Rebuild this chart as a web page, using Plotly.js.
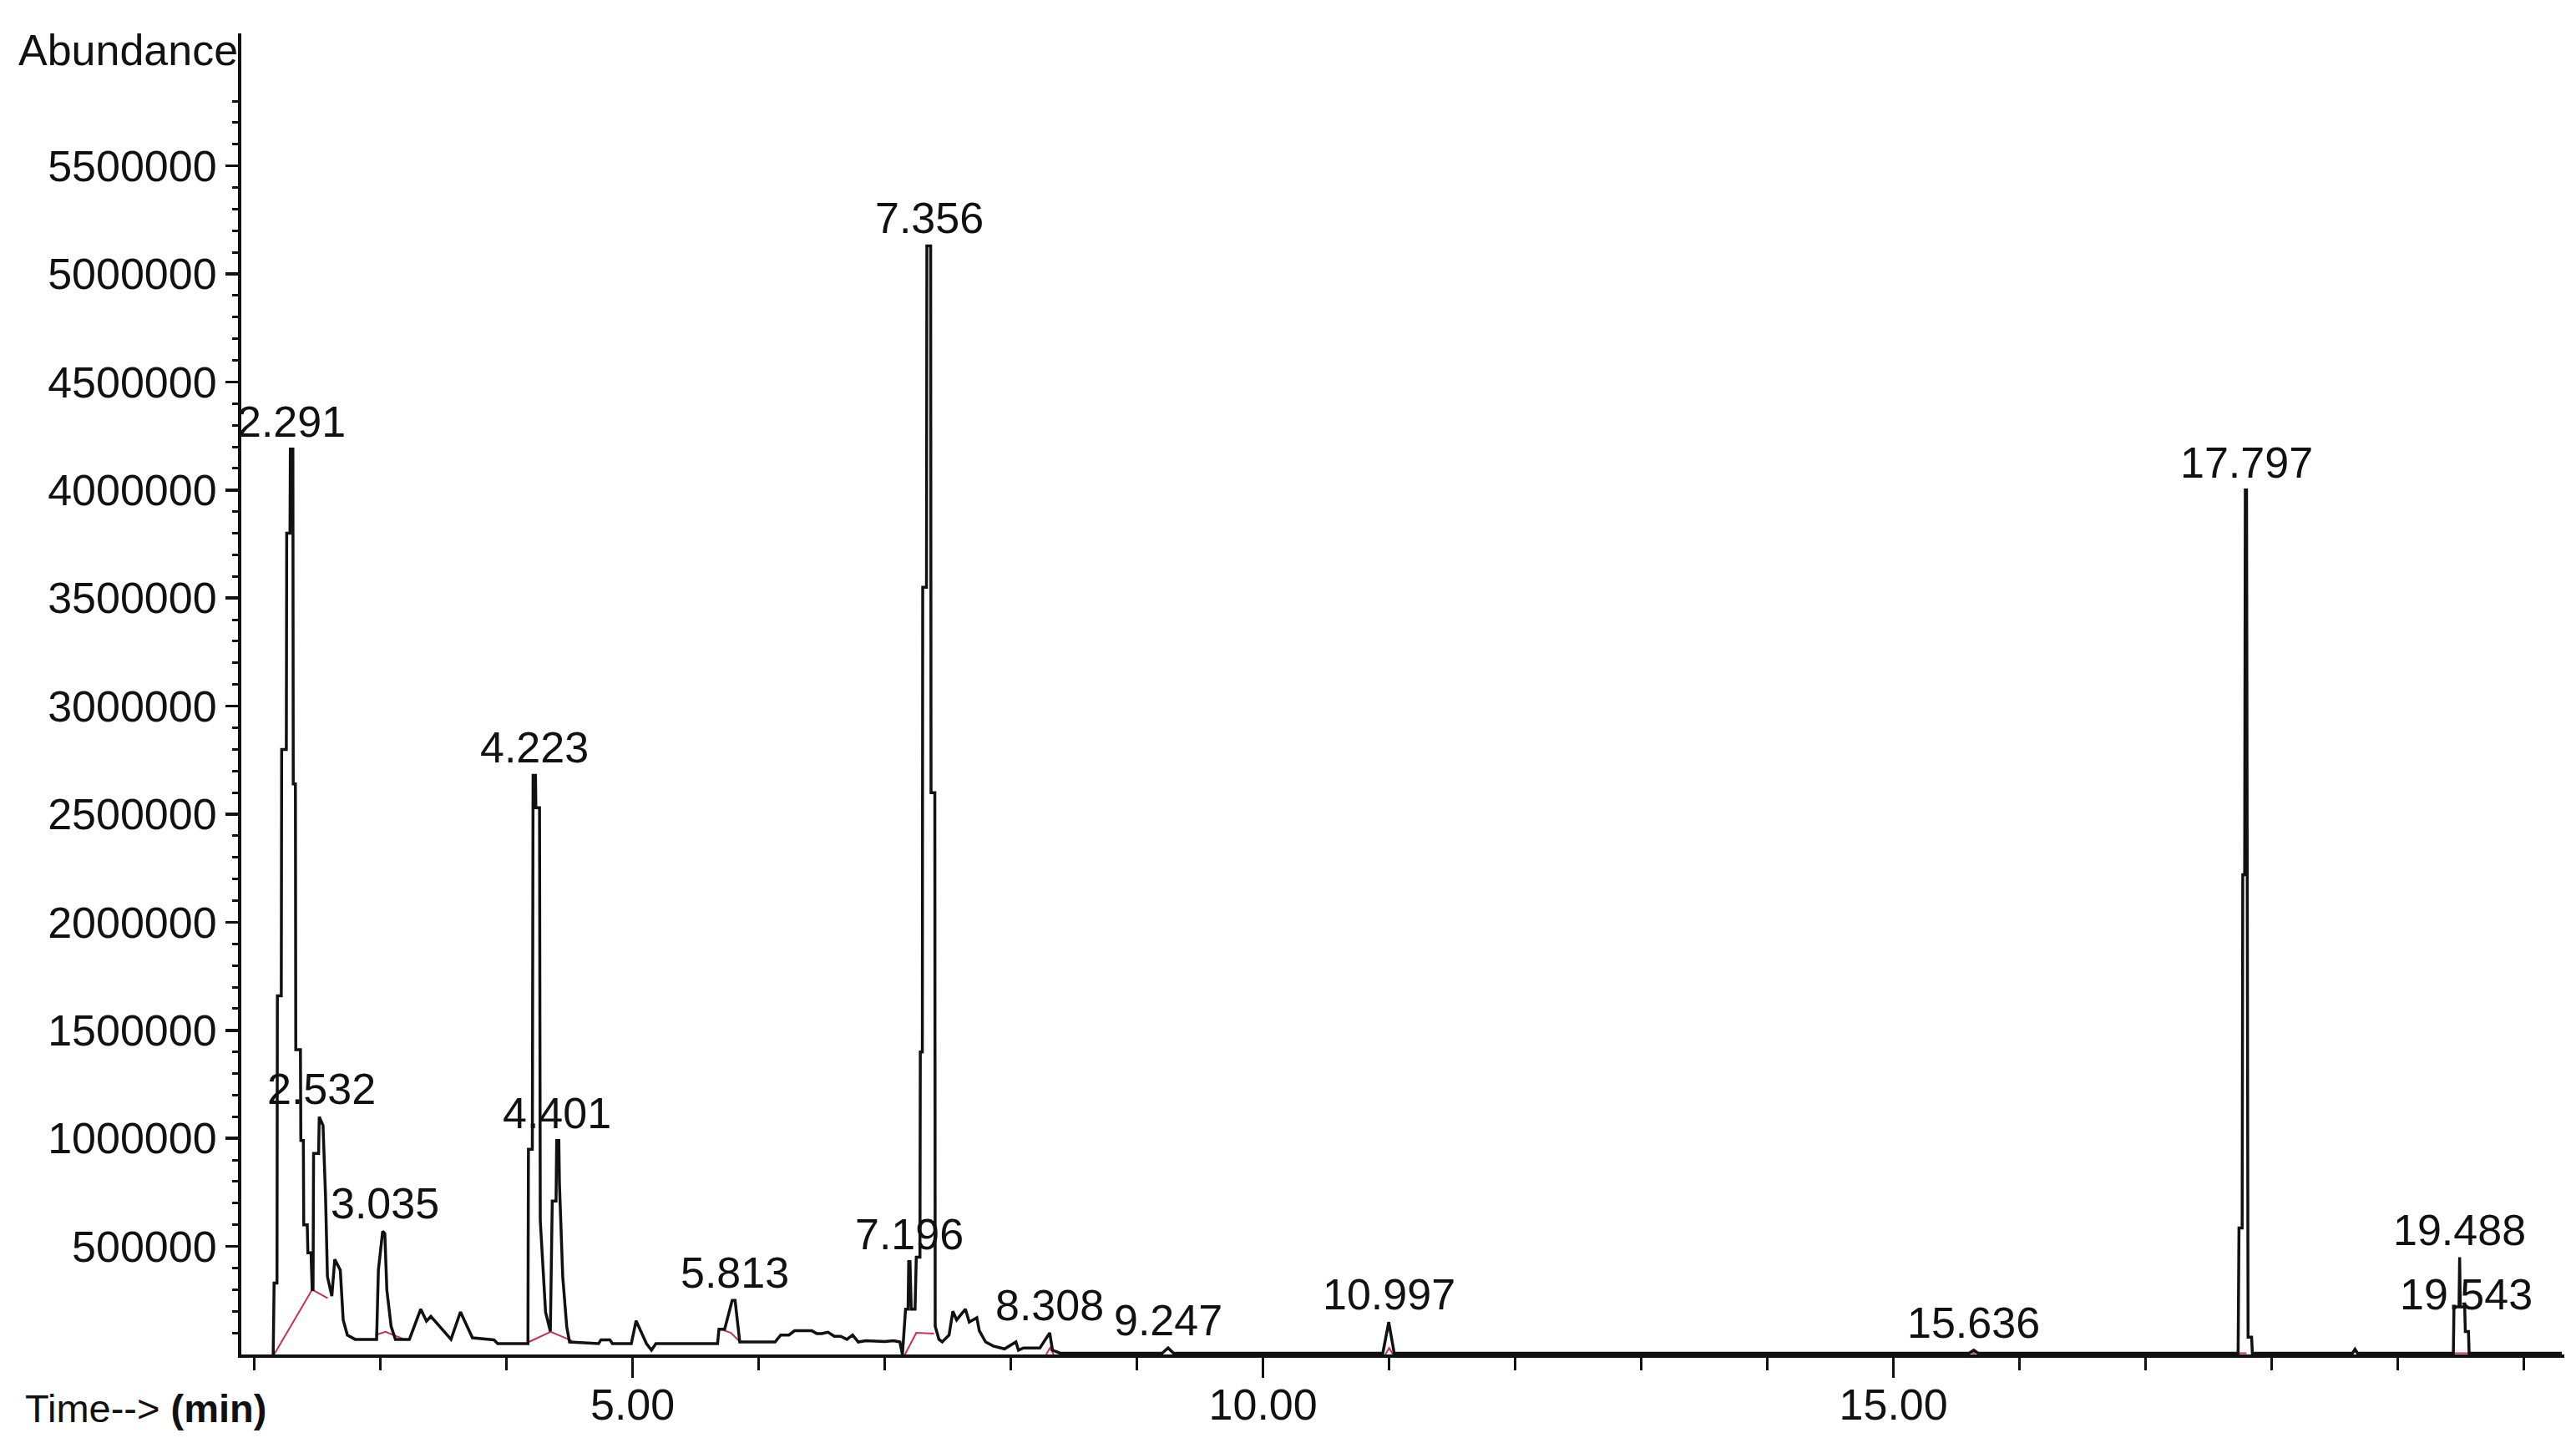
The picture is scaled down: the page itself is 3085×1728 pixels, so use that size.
<!DOCTYPE html>
<html>
<head>
<meta charset="utf-8">
<script src="https://cdn.plot.ly/plotly-3.0.1.min.js"></script>
<style>
  html, body { margin: 0; padding: 0; background: #ffffff; }
  #chart { width: 3085px; height: 1728px; }
</style>
</head>
<body>
<div id="chart"></div>
<script>
// Retention time (min) of the total ion chromatogram trace
const rtMin = [
  2.150, 2.157, 2.180, 2.183, 2.214, 2.217, 2.254, 2.257, 2.283, 2.286,
  2.306, 2.309, 2.326, 2.329, 2.366, 2.369, 2.389, 2.392, 2.420, 2.425,
  2.450, 2.459, 2.466, 2.470, 2.510, 2.515, 2.545, 2.565, 2.580, 2.615,
  2.638, 2.682, 2.705, 2.738, 2.800, 2.970, 2.984, 3.018, 3.035, 3.051,
  3.085, 3.119, 3.230, 3.320, 3.365, 3.400, 3.560, 3.635, 3.730, 3.900,
  3.930, 4.170, 4.174, 4.205, 4.211, 4.230, 4.233, 4.262, 4.268, 4.310,
  4.348, 4.363, 4.393, 4.398, 4.415, 4.420, 4.446, 4.478, 4.500, 4.730,
  4.750, 4.820, 4.840, 4.990, 5.028, 5.110, 5.150, 5.185, 5.674, 5.685,
  5.730, 5.790, 5.813, 5.850, 5.890, 6.130, 6.175, 6.240, 6.285, 6.420,
  6.460, 6.500, 6.550, 6.600, 6.650, 6.700, 6.745, 6.790, 6.850, 7.000,
  7.070, 7.120, 7.140, 7.165, 7.185, 7.190, 7.200, 7.210, 7.240, 7.250,
  7.279, 7.282, 7.298, 7.301, 7.331, 7.334, 7.364, 7.367, 7.397, 7.400,
  7.430, 7.456, 7.510, 7.540, 7.570, 7.640, 7.670, 7.730, 7.750, 7.800,
  7.860, 7.950, 8.040, 8.060, 8.100, 8.230, 8.308, 8.330, 8.390, 9.200,
  9.247, 9.290, 10.950, 10.997, 11.040, 15.600, 15.636, 15.670, 17.733, 17.740,
  17.765, 17.770, 17.785, 17.790, 17.800, 17.812, 17.840, 17.846, 18.640, 18.660,
  18.680, 19.440, 19.445, 19.485, 19.490, 19.495, 19.530, 19.535, 19.560, 19.565,
  20.300
];

// Abundance (counts) at each retention time
const abundance = [
  0, 330000, 330000, 1660000, 1660000, 2800000, 2800000, 3800000, 3800000, 4190000,
  4190000, 2640000, 2640000, 1410000, 1410000, 990000, 990000, 600000, 600000, 470000,
  470000, 300000, 300000, 930000, 930000, 1100000, 1060000, 730000, 360000, 270000,
  440000, 390000, 160000, 90000, 70000, 70000, 390000, 570000, 560000, 300000,
  130000, 70000, 70000, 210000, 155000, 176000, 70000, 197000, 77000, 68000,
  50000, 50000, 950000, 950000, 2680000, 2680000, 2530000, 2530000, 620000, 195000,
  107000, 710000, 710000, 990000, 990000, 790000, 360000, 127000, 58000, 50000,
  68000, 68000, 50000, 50000, 156000, 50000, 20000, 50000, 50000, 117000,
  117000, 250000, 250000, 58000, 58000, 58000, 90000, 90000, 110000, 110000,
  97000, 97000, 103000, 84000, 84000, 70000, 90000, 58000, 64000, 60000,
  64000, 58000, 0, 210000, 210000, 430000, 430000, 210000, 210000, 450000,
  450000, 1400000, 1400000, 3550000, 3550000, 5130000, 5130000, 2600000, 2600000, 130000,
  70000, 58000, 90000, 200000, 160000, 210000, 150000, 170000, 110000, 58000,
  39000, 26000, 58000, 20000, 30000, 30000, 100000, 20000, 6000, 6000,
  30000, 6000, 6000, 150000, 6000, 6000, 20000, 6000, 6000, 585000,
  585000, 2220000, 2220000, 4000000, 4000000, 80000, 80000, 6000, 6000, 24000,
  6000, 6000, 220000, 220000, 450000, 220000, 220000, 106000, 106000, 6000,
  6000
];

// Integration baselines (red), segments separated by null
const baseRt = [2.157, 2.459, 2.582, null, 2.96, 3.04, 3.19, null, 4.17, 4.35, 4.52, null,
  5.70, 5.78, 5.85, null, 7.16, 7.25, 7.39, null, 8.28, 8.31, 8.34, null,
  10.97, 11.00, 11.03, null, 15.62, 15.65, null, 17.73, 17.80, null, 19.44, 19.56];
const baseAbund = [0, 300000, 260000, null, 90000, 105000, 70000, null, 56000, 105000, 63000, null,
  117000, 100000, 60000, null, 0, 100000, 97000, null, 0, 30000, 0, null,
  0, 30000, 0, null, 6000, 6000, null, 6000, 6000, null, 6000, 6000];

// Labeled peaks (retention times, min)
const peakLabels = ["2.291", "2.532", "3.035", "4.223", "4.401", "5.813", "7.196", "7.356",
  "8.308", "9.247", "10.997", "15.636", "17.797", "19.488", "19.543"];

// Axis ticks
const xMajorTicks = [5, 10, 15, 20];
const xMajorText = ["5.00", "10.00", "15.00", ""];

const FONT = "'Liberation Sans', Arial, sans-serif";
const FS = 52;

// ticks built from the step
const yMajor = [];
for (let v = 500000; v <= 5500000; v += 500000) yMajor.push(v);
const yMinor = [];
for (let v = 100000; v <= 5800000; v += 100000) yMinor.push(v);
const xMinor = [];
for (let t = 2; t <= 20; t += 1) xMinor.push(t);

function peakHeight(rt) {
  let m = 0;
  for (let i = 0; i < rtMin.length; i++) {
    if (Math.abs(rtMin[i] - rt) <= 0.02 && abundance[i] > m) m = abundance[i];
  }
  return m;
}

const annotations = [];
let prevX = -1;
peakLabels.forEach(lbl => {
  const x = parseFloat(lbl);
  // labels of neighbouring peaks are stacked: the later one sits lower
  const crowded = (x - prevX) < 0.1;
  annotations.push({
    x: x, y: peakHeight(x),
    xref: 'x', yref: 'y', text: lbl, showarrow: false,
    xanchor: 'center', yanchor: 'bottom', yshift: crowded ? -16 : 2,
    font: {family: FONT, size: FS, color: '#111111'}
  });
  prevX = x;
});

annotations.push({
  xref: 'paper', yref: 'paper', x: 0, y: 1, xanchor: 'right', yanchor: 'middle',
  xshift: -2, yshift: -20, text: 'Abundance', showarrow: false,
  font: {family: FONT, size: FS, color: '#111111'}
});
annotations.push({
  xref: 'paper', yref: 'paper', x: 0, y: 0, xanchor: 'left', yanchor: 'middle',
  xshift: -261, yshift: -64, text: 'Time--> <b>(min)</b>', showarrow: false,
  font: {family: FONT, size: 47, color: '#111111'}
});

const traces = [
  {
    x: baseRt, y: baseAbund, type: 'scatter', mode: 'lines',
    line: {color: '#c8324e', width: 2}, connectgaps: false, hoverinfo: 'skip'
  },
  {
    x: rtMin, y: abundance, type: 'scatter', mode: 'lines',
    line: {color: '#111111', width: 3.5}
  }
];

const layout = {
  width: 3085, height: 1728,
  paper_bgcolor: '#ffffff', plot_bgcolor: '#ffffff',
  showlegend: false,
  margin: {l: 289, r: 14, t: 40, b: 106},
  font: {family: FONT, size: FS, color: '#111111'},
  xaxis: {
    range: [1.897, 20.32], showgrid: false, zeroline: false,
    showline: true, linecolor: '#111111', linewidth: 4,
    tickmode: 'array', tickvals: xMajorTicks, ticktext: xMajorText,
    ticks: 'outside', ticklen: 24, tickwidth: 3.5, tickcolor: '#111111',
    ticklabelstandoff: -12,
    tickfont: {family: FONT, size: FS, color: '#111111'},
    minor: {tickmode: 'array', tickvals: xMinor, ticks: 'outside', ticklen: 15, tickwidth: 3.5, tickcolor: '#111111', showgrid: false}
  },
  yaxis: {
    range: [0, 6113000], showgrid: false, zeroline: false,
    showline: true, linecolor: '#111111', linewidth: 4,
    tickmode: 'array', tickvals: yMajor, tickformat: 'd',
    ticks: 'outside', ticklen: 15, tickwidth: 3.5, tickcolor: '#111111',
    tickfont: {family: FONT, size: FS, color: '#111111'},
    minor: {tickmode: 'array', tickvals: yMinor, ticks: 'outside', ticklen: 7, tickwidth: 3, tickcolor: '#111111', showgrid: false}
  },
  annotations: annotations
};

Plotly.newPlot('chart', traces, layout, {displayModeBar: false, staticPlot: true});
</script>
</body>
</html>
